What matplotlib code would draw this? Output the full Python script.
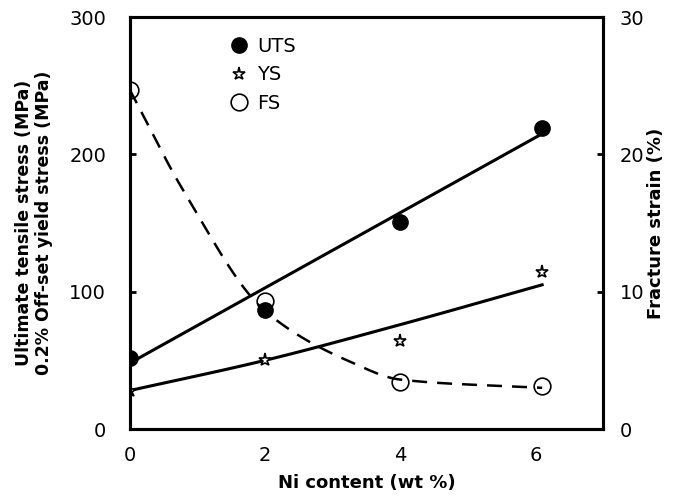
import numpy as np
import matplotlib
matplotlib.use("Agg")
import matplotlib.pyplot as plt

# ---- data ----
ni = [0, 2, 4, 6.1]
uts = [52, 87, 151, 219]          # MPa
ys = [28, 50, 64, 114]            # MPa
fs = [24.7, 9.3, 3.4, 3.1]        # %

# fitted guide lines (as drawn in the reference)
uts_fit_x = [0, 6.1]
uts_fit = [48, 215]
ys_fit_x = [0, 2, 4, 6.1]
ys_fit = [28, 50, 76, 105]
fs_fit_x = [0, 0.8, 2, 3.26, 4, 6.1]
fs_fit = [24.7, 17.3, 8.6, 4.9, 3.6, 3.0]

xticks = [0, 2, 4, 6]
yticks_left = [0, 100, 200, 300]
yticks_right = [0, 10, 20, 30]


def pchip(x, y, xn):
    x = np.asarray(x, float); y = np.asarray(y, float)
    h = np.diff(x); d = np.diff(y) / h
    m = np.zeros_like(y)
    for k in range(1, len(x) - 1):
        if d[k - 1] * d[k] > 0:
            w1 = 2 * h[k] + h[k - 1]; w2 = h[k] + 2 * h[k - 1]
            m[k] = (w1 + w2) / (w1 / d[k - 1] + w2 / d[k])
    m[0] = d[0]; m[-1] = d[-1]
    idx = np.clip(np.searchsorted(x, xn) - 1, 0, len(x) - 2)
    t = (xn - x[idx]) / h[idx]
    h00 = 2 * t**3 - 3 * t**2 + 1; h10 = t**3 - 2 * t**2 + t
    h01 = -2 * t**3 + 3 * t**2; h11 = t**3 - t**2
    return h00 * y[idx] + h10 * h[idx] * m[idx] + h01 * y[idx + 1] + h11 * h[idx] * m[idx + 1]


plt.rcParams['font.family'] = ['DejaVu Sans']
fig = plt.figure(figsize=(6.76, 5.01), dpi=100)
ax = fig.add_axes([0.192, 0.1437, 0.700, 0.8223])
ax2 = ax.twinx()

ax.plot(uts_fit_x, uts_fit, color='black', lw=2.2, solid_capstyle='round')
xs = np.linspace(ys_fit_x[0], ys_fit_x[-1], 100)
ax.plot(xs, pchip(ys_fit_x, ys_fit, xs), color='black', lw=2.2)
ax.plot(ni, uts, 'o', color='black', ms=11, ls='none', label='UTS')
ax.plot(ni, ys, '*', mfc='white', mec='black', mew=1.2, ms=9.5, ls='none', label='YS')

xf = np.linspace(fs_fit_x[0], fs_fit_x[-1], 200)
ax2.plot(xf, pchip(fs_fit_x, fs_fit, xf), color='black', lw=1.8, ls=(0, (6, 4)))
ax2.plot(ni, fs, 'o', mfc='none', mec='black', mew=1.2, ms=12, ls='none', label='FS')

ax.set_xlim(0, 7)
ax.set_ylim(0, 300)
ax2.set_ylim(0, 30)
ax.set_xticks(xticks)
ax.set_yticks(yticks_left)
ax2.set_yticks(yticks_right)

for a in (ax, ax2):
    for s in a.spines.values():
        s.set_linewidth(2.2)
ax.tick_params(axis='x', direction='in', length=0, labelsize=14, pad=12)
ax.tick_params(axis='y', direction='in', length=4, width=2, labelsize=14, pad=17)
ax2.tick_params(axis='y', direction='in', length=4, width=2, labelsize=14, pad=12)

ax.set_xlabel('Ni content (wt %)', fontsize=13, fontweight='bold', labelpad=7)
ax.set_ylabel('Ultimate tensile stress (MPa)\n0.2% Off-set yield stress (MPa)',
              fontsize=12.5, fontweight='bold', labelpad=12, linespacing=1.1)
ax2.set_ylabel('Fracture strain (%)', fontsize=13, fontweight='bold', labelpad=2)

h1, l1 = ax.get_legend_handles_labels()
h2, l2 = ax2.get_legend_handles_labels()
leg = ax.legend(h1 + h2, l1 + l2, loc='upper left', bbox_to_anchor=(0.17, 0.995),
                frameon=False, fontsize=14, handletextpad=0.3, labelspacing=0.5,
                handlelength=1.2)
ax2.set_zorder(ax.get_zorder() + 1)
ax2.patch.set_visible(False)

fig.savefig('out.png', dpi=100)
